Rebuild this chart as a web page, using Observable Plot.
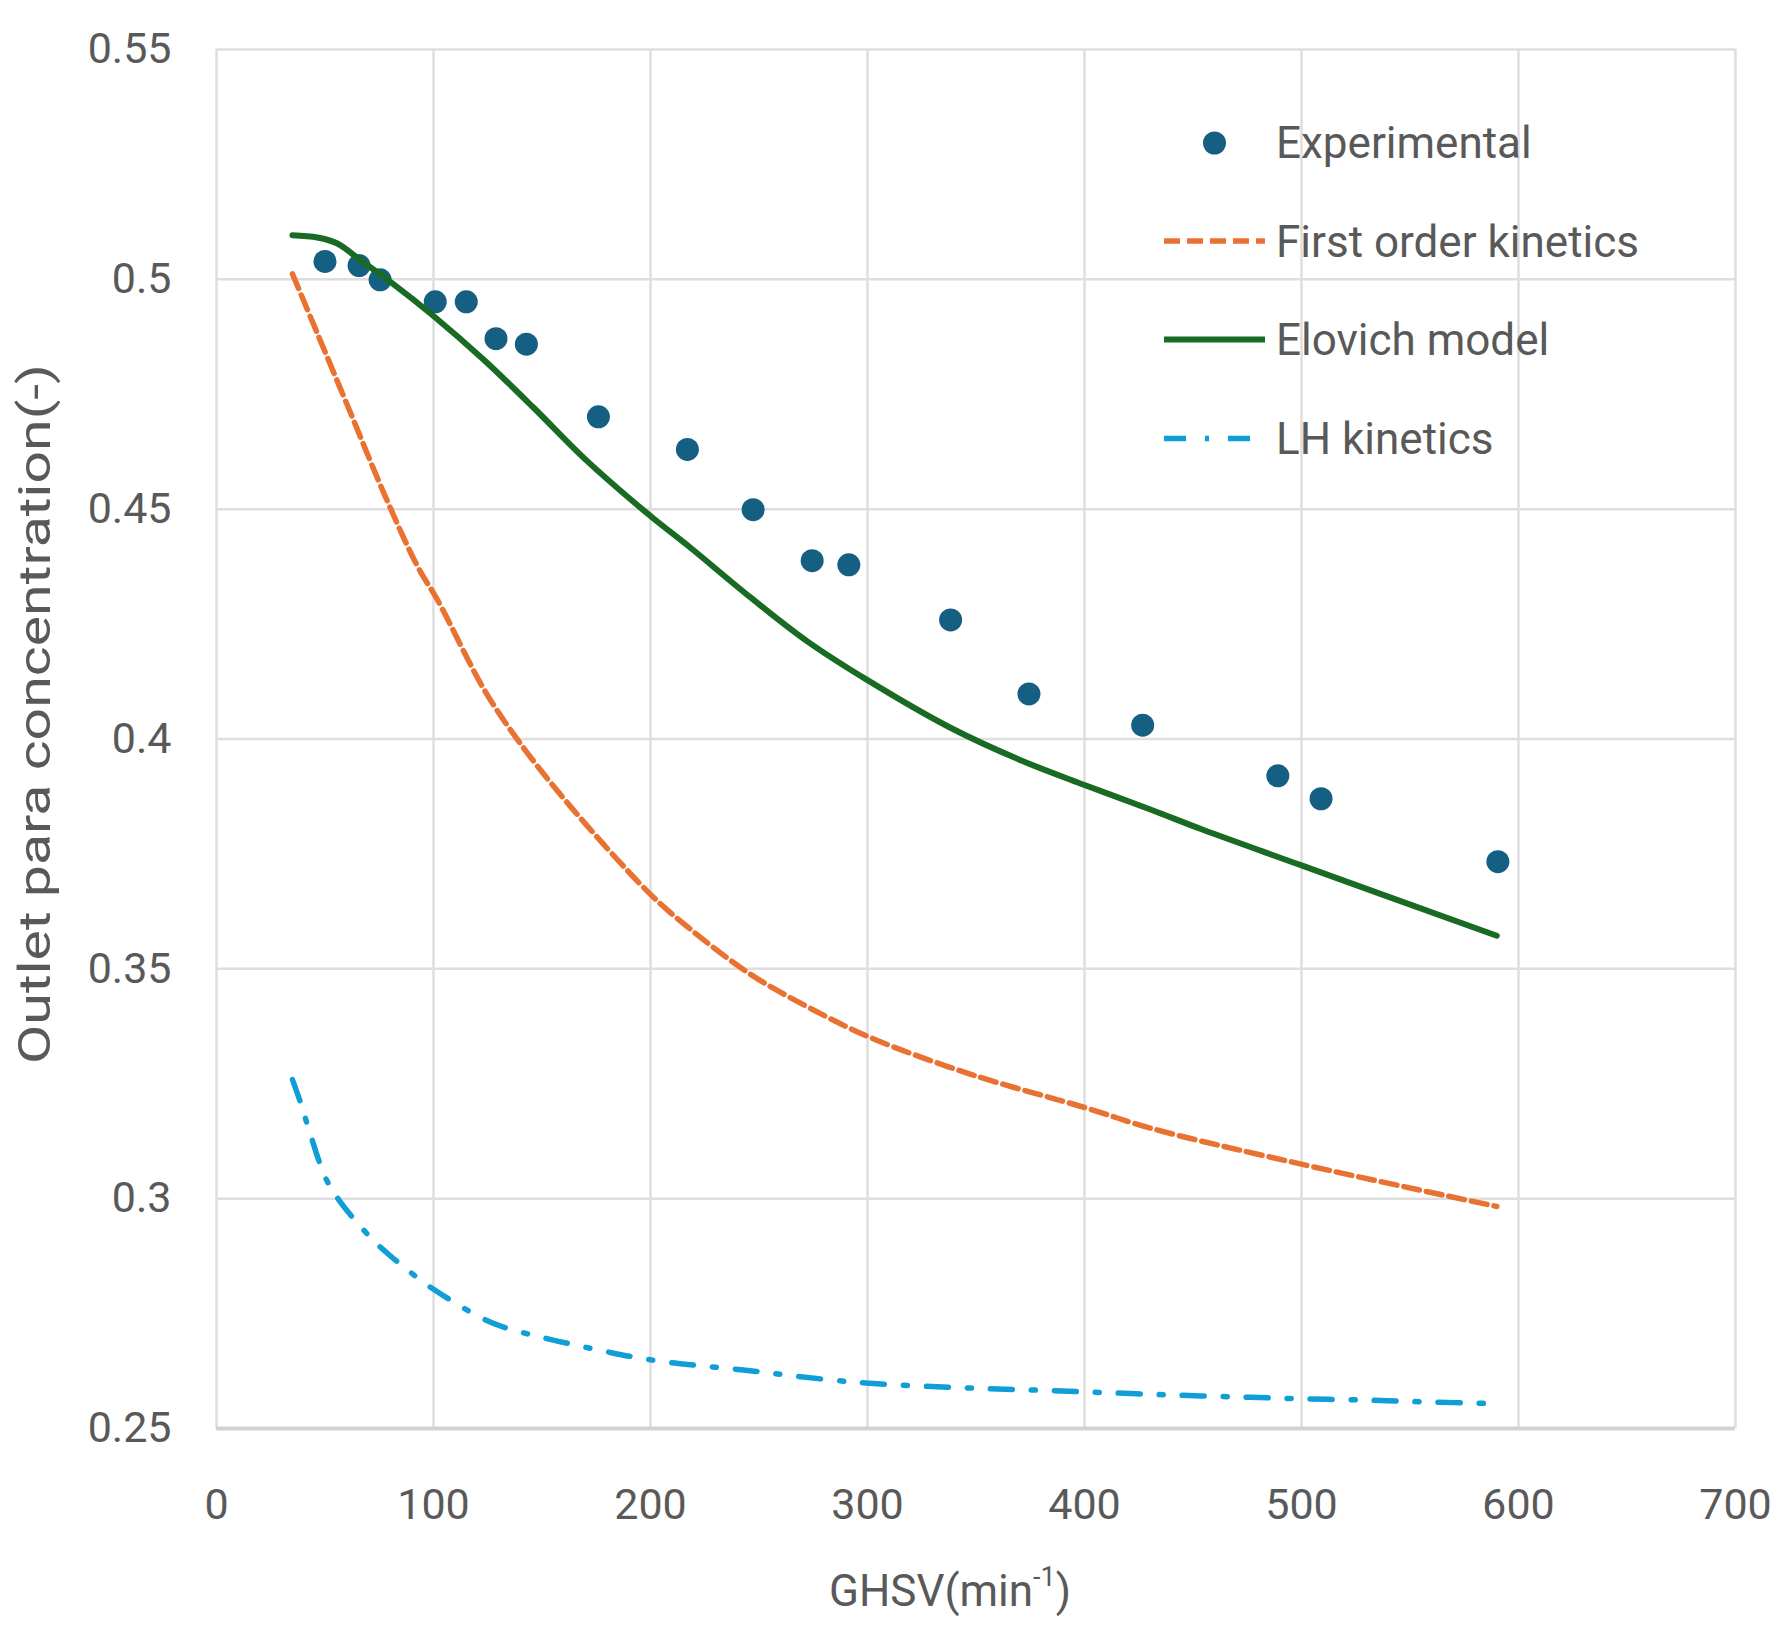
<!DOCTYPE html>
<html>
<head>
<meta charset="utf-8">
<script src="https://cdn.jsdelivr.net/npm/d3@7"></script>
<script src="https://cdn.jsdelivr.net/npm/@observablehq/plot@0.6"></script>
<style>
  html, body { margin: 0; padding: 0; background: #ffffff; }
  #chart { width: 1792px; height: 1649px; }
</style>
</head>
<body>
<div id="chart"></div>
<script>
// ---- data ----
const expX = [50, 65.7, 75.4, 100.8, 115.1, 128.8, 142.8, 176, 217, 247.3, 274.5, 291.4, 338.3, 374.4, 426.8, 489.1, 509, 590.5];
const expY = [0.5039, 0.503, 0.4999, 0.4951, 0.4951, 0.4871, 0.4859, 0.4701, 0.463, 0.4499, 0.4388, 0.4379, 0.4259, 0.4098, 0.403, 0.392, 0.387, 0.3733];

const firstX = [35, 46.5, 61.9, 77.2, 92.7, 101.9, 123.4, 138.8, 161.9, 200, 218.7, 246.1, 272.1, 301.1, 348, 401, 430.7, 500, 590];
const firstY = [0.5012, 0.4882, 0.4708, 0.4534, 0.4375, 0.4302, 0.4107, 0.3998, 0.386, 0.3662, 0.3585, 0.3488, 0.3418, 0.3351, 0.327, 0.3197, 0.3153, 0.3075, 0.2983];

const elovichX = [35, 46.5, 55.7, 66.5, 80.3, 99.6, 123.4, 146.5, 169.6, 200, 218.7, 246.1, 272.1, 300, 338, 370, 400, 430.7, 454.3, 500, 590];
const elovichY = [0.5096, 0.5091, 0.5078, 0.5041, 0.4994, 0.4922, 0.4824, 0.4719, 0.461, 0.4485, 0.4415, 0.4308, 0.4213, 0.4128, 0.4025, 0.3955, 0.39, 0.3846, 0.3803, 0.3725, 0.3572];

const lhX = [35, 38.8, 42.6, 50.3, 57.2, 71.1, 79.5, 95.7, 104.9, 121.9, 132.6, 151.1, 161.1, 178.8, 190.4, 208.1, 219.6, 237.3, 248.8, 296, 348, 380.6, 409.7, 438.9, 468, 497.2, 527.5, 556.6, 590];
const lhY = [0.3259, 0.3208, 0.315, 0.3045, 0.2992, 0.2915, 0.2878, 0.2817, 0.2788, 0.2741, 0.272, 0.2697, 0.2686, 0.2668, 0.2657, 0.2644, 0.2638, 0.263, 0.2624, 0.26, 0.2588, 0.2583, 0.2578, 0.2573, 0.2569, 0.2565, 0.2562, 0.2558, 0.2554];

const xTicks = [0, 100, 200, 300, 400, 500, 600, 700];
const xTickLabels = ["0", "100", "200", "300", "400", "500", "600", "700"];
const yTicks = [0.25, 0.3, 0.35, 0.4, 0.45, 0.5, 0.55];
const yTickLabels = ["0.25", "0.3", "0.35", "0.4", "0.45", "0.5", "0.55"];

const seriesNames = ["Experimental", "First order kinetics", "Elovich model", "LH kinetics"];
const seriesColors = ["#156082", "#E97132", "#196B24", "#0F9ED5"];
const seriesDash = [null, "16,7", null, "22,19,4,19"];

const xTitleMain = "GHSV(min";
const xTitleSup = "-1";
const xTitleEnd = ")";
const yTitle = "Outlet para concentration(-)";

// ---- tables built from the arrays ----
const rows = (xs, ys) => xs.map((x, i) => ({x, y: ys[i]}));
const expData = rows(expX, expY);
const firstData = rows(firstX, firstY);
const elovichData = rows(elovichX, elovichY);
const lhData = rows(lhX, lhY);

const FONT = "Roboto, 'Noto Sans', sans-serif";
const TEXT = "#595959";
const GRID = "#dedede";

const chart = Plot.plot({
  width: 1792,
  height: 1649,
  marginLeft: 216,
  marginRight: 57,
  marginTop: 49,
  marginBottom: 221,
  style: {fontFamily: FONT, fontSize: "43px", color: TEXT, background: "#ffffff", overflow: "visible"},
  x: {
    domain: [xTicks[0], xTicks[xTicks.length - 1]],
    ticks: xTicks,
    tickFormat: d => xTickLabels[xTicks.indexOf(d)],
    tickSize: 0,
    tickPadding: 60,
    label: null
  },
  y: {
    domain: [yTicks[0], yTicks[yTicks.length - 1]],
    ticks: yTicks,
    tickFormat: d => yTickLabels[yTicks.indexOf(d)],
    tickSize: 0,
    tickPadding: 45,
    label: null
  },
  marks: [
    Plot.ruleX(xTicks, {stroke: GRID, strokeWidth: 2.5}),
    Plot.ruleY(yTicks, {stroke: GRID, strokeWidth: 2.5}),
    Plot.ruleY([yTicks[0]], {stroke: "#d2d2d2", strokeWidth: 4}),
    Plot.dot(expData, {x: "x", y: "y", r: 11.5, fill: seriesColors[0], stroke: "none"}),
    Plot.line(firstData, {x: "x", y: "y", stroke: seriesColors[1], strokeWidth: 5.5, strokeDasharray: seriesDash[1], curve: "catmull-rom"}),
    Plot.line(elovichData, {x: "x", y: "y", stroke: seriesColors[2], strokeWidth: 6, curve: "catmull-rom"}),
    Plot.line(lhData, {x: "x", y: "y", stroke: seriesColors[3], strokeWidth: 5.5, strokeDasharray: seriesDash[3], curve: "catmull-rom"})
  ]
});

document.getElementById("chart").appendChild(chart);

const svg = d3.select(chart);
svg.selectAll("g[aria-label$='axis'] text, g[aria-label$='tick label'] text")
  .attr("font-size", 43).attr("fill", TEXT);

// ---- axis titles ----
const xt = svg.append("text")
  .attr("x", 950).attr("y", 1606)
  .attr("text-anchor", "middle")
  .attr("font-family", FONT).attr("font-size", 44).attr("fill", TEXT);
xt.append("tspan").text(xTitleMain);
xt.append("tspan").attr("font-size", 27).attr("dy", -20).text(xTitleSup);
xt.append("tspan").attr("dy", 20).text(xTitleEnd);

svg.append("text")
  .attr("transform", "translate(34,714) rotate(-90)")
  .attr("text-anchor", "middle").attr("dy", "0.35em")
  .attr("font-family", FONT).attr("font-size", 45).attr("fill", TEXT)
  .attr("textLength", 700).attr("lengthAdjust", "spacingAndGlyphs")
  .text(yTitle);

// ---- legend (inside the plot, top right) ----
const legRowY = [142, 241, 339.5, 438.5];
const legX0 = 1164, legX1 = 1265, legTextX = 1276;
const lg = svg.append("g").attr("aria-label", "legend").attr("text-anchor", "start");
seriesNames.forEach((name, i) => {
  const yy = legRowY[i];
  if (i === 0) {
    lg.append("circle").attr("cx", (legX0 + legX1) / 2).attr("cy", yy + 1)
      .attr("r", 11.5).attr("fill", seriesColors[0]);
  } else {
    const ln = lg.append("line")
      .attr("x1", legX0).attr("x2", i === 3 ? 1251 : legX1)
      .attr("y1", yy).attr("y2", yy)
      .attr("stroke", seriesColors[i])
      .attr("stroke-width", i === 2 ? 6 : 5.5);
    if (seriesDash[i]) ln.attr("stroke-dasharray", seriesDash[i]);
  }
  lg.append("text")
    .attr("x", legTextX).attr("y", yy).attr("dy", "0.36em")
    .attr("text-anchor", "start")
    .attr("font-family", FONT).attr("font-size", 44).attr("fill", TEXT)
    .text(name);
});
</script>
</body>
</html>
